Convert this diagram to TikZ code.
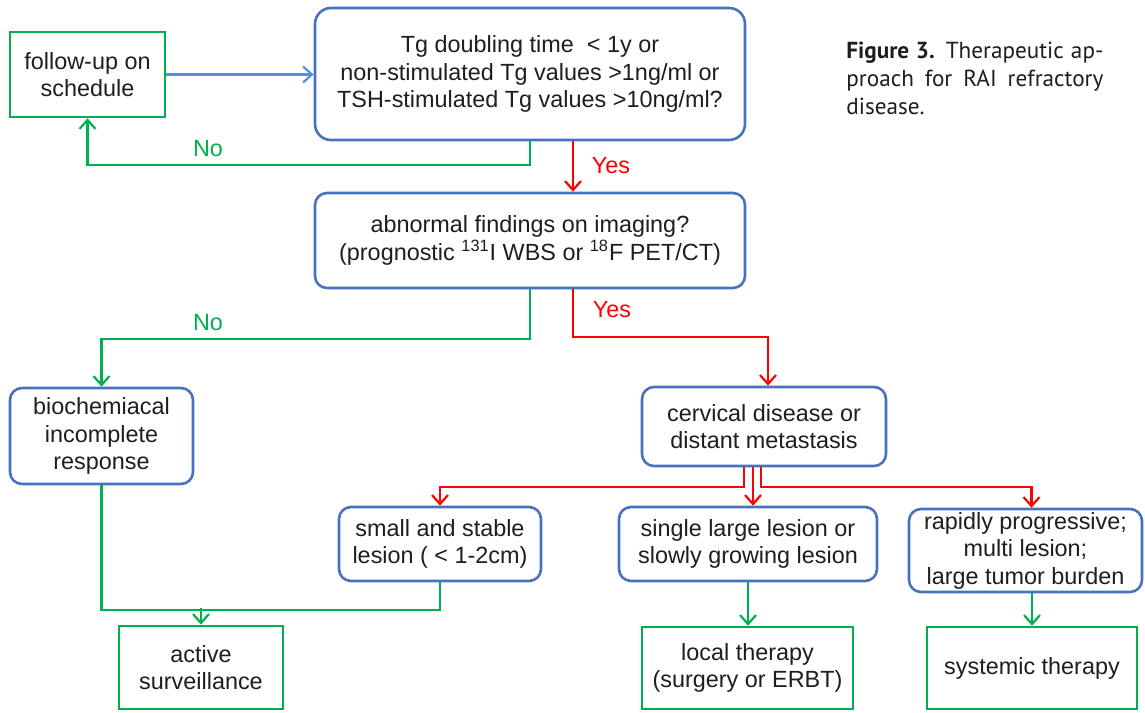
\documentclass[tikz,border=0pt]{standalone}
\usepackage{fontspec}
\setmainfont{Liberation Sans}
\newfontfamily\capfont{PT Sans}
\usetikzlibrary{arrows.meta, positioning}
\definecolor{boxblue}{RGB}{72,114,190}
\definecolor{arrowblue}{RGB}{88,142,226}
\definecolor{okgreen}{RGB}{0,176,80}
\definecolor{yesred}{RGB}{255,0,0}
\definecolor{textgray}{RGB}{30,30,30}

\begin{document}
\begin{tikzpicture}[x=0.5pt, y=-0.5pt,
  every node/.style={font=\fontsize{11.7}{13.75}\selectfont, text=textgray,
                     align=center, inner sep=0pt},
  qbox/.style={rectangle, draw=boxblue, line width=1.3pt, rounded corners=6pt, fill=white},
  tbox/.style={rectangle, draw=okgreen, line width=1.3pt, fill=white},
  gline/.style={draw=okgreen, line width=1.15pt},
  rline/.style={draw=yesred, line width=1.15pt},
  bline/.style={draw=arrowblue, line width=1.15pt},
  tip/.style={-{Straight Barb[length=4.5pt, width=8pt, line width=1.1pt]}}]

\fill[white] (0,0) rectangle (1145,712);

% Question boxes
\node[qbox, rounded corners=8pt, minimum width=215pt, minimum height=66pt] (tg) at (530,74)
      {Tg doubling time~ < 1y or\\ non-stimulated Tg values >1ng/ml or\\ TSH-stimulated Tg values >10ng/ml?};
\node[qbox, minimum width=215pt, minimum height=47.5pt] (abn) at (530,240.5)
      {abnormal findings on imaging?\\ (prognostic \textsuperscript{131}I WBS or \textsuperscript{18}F PET/CT)};

% Follow-up
\node[tbox, minimum width=77.5pt, minimum height=42.5pt] (follow) at (87.5,74.5)
      {follow-up on\\ schedule};

% Findings
\node[qbox, minimum width=91.5pt, minimum height=48pt] (bio) at (101.5,436)
      {biochemiacal\\ incomplete\\ response};
\node[qbox, minimum width=122pt, minimum height=39.5pt] (cerv) at (764,426.5)
      {cervical disease or\\ distant metastasis};
\node[qbox, minimum width=101pt, minimum height=37pt] (small) at (440,544)
      {small and stable\\ lesion ( < 1-2cm)};
\node[qbox, minimum width=129pt, minimum height=37pt] (single) at (748,544)
      {single large lesion or\\ slowly growing lesion};
\node[qbox, minimum width=116.5pt, minimum height=41.5pt] (rapid) at (1025.5,550.5)
      {rapidly progressive;\\ multi lesion;\\ large tumor burden};

% Therapy boxes
\node[tbox, minimum width=82pt, minimum height=41.5pt] (active) at (201,667.5)
      {active\\ surveillance};
\node[tbox, minimum width=105.5pt, minimum height=41pt] (local) at (747.5,668)
      {local therapy\\ (surgery or ERBT)};
\node[tbox, minimum width=105pt, minimum height=41pt] (sys) at (1032,668)
      {systemic therapy};

% Caption
\node[anchor=north west, text width=128.5pt, align=justify,
      font=\capfont\fontsize{11.6}{14}\selectfont] (caption) at (846,42)
      {\textbf{Figure 3.} Therapeutic ap-\linebreak proach for RAI refractory\linebreak disease.};

% First question
\draw[bline, tip] (follow.east) -- (follow.east -| tg.west);
\draw[gline, tip] (tg.south) -- ++(0,24) -| (follow.south);
\node[text=okgreen] (no1) at (208,149) {No};
\draw[rline, tip] ([xshift=21.5pt]tg.south) -- ([xshift=21.5pt]abn.north);
\node[text=yesred] (yes1) at (611,166) {Yes};

% Imaging
\draw[gline, tip] (abn.south) -- ++(0,50) -| (bio.north);
\node[text=okgreen] (no2) at (208,323) {No};
\draw[rline, tip] ([xshift=21.5pt]abn.south) -- ++(0,48) -| ([xshift=2pt]cerv.north);
\node[text=yesred] (yes2) at (612,310) {Yes};

% Lesion type
\draw[rline, tip] ([xshift=-10pt]cerv.south) -- ++(0,20) -| (small.north);
\draw[rline, tip] ([xshift=-5.5pt]cerv.south) -- ([xshift=-5.5pt]cerv.south |- single.north);
\draw[rline, tip] ([xshift=-1.5pt]cerv.south) -- ++(0,20) -| ([xshift=3pt]rapid.north);

% Therapy
\draw[gline] (bio.south) -- ++(0,125) -| (small.south);
\coordinate (merge) at ([yshift=8.5pt]active.north);
\draw[gline, tip] (merge) -- (active.north);
\draw[gline, tip] (single.south) -- (single.south |- local.north);
\draw[gline, tip] (sys.north |- rapid.south) -- (sys.north);

\end{tikzpicture}
\end{document}
